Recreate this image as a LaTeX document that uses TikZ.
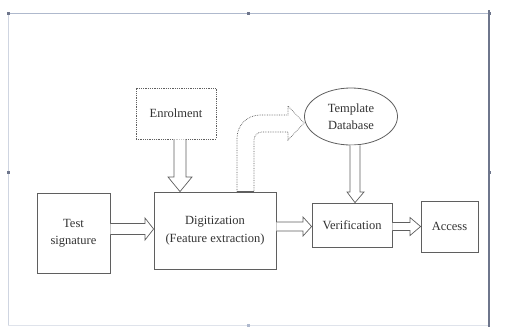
\documentclass[tikz,border=0pt]{standalone}
\usepackage{fontspec}
\setmainfont{Liberation Serif}
\usetikzlibrary{shapes.geometric,calc}
\definecolor{framec}{RGB}{175,185,205}
\definecolor{framed}{RGB}{110,118,140}
\definecolor{linec}{RGB}{95,95,95}
\definecolor{txtc}{RGB}{50,50,50}
\tikzset{
  blockbox/.style={draw=linec, line width=0.8pt, fill=white, text=txtc, align=center, font=\fontsize{12.5}{17.5}\selectfont, inner sep=0pt},
  hollow/.style={draw=linec, line width=0.7pt, fill=white, line join=miter},
  handle/.style={fill=framed, draw=none, minimum size=3pt, inner sep=0pt}
}
\begin{document}
\begin{tikzpicture}[x=1pt,y=-1pt]
\useasboundingbox (0,0) rectangle (526,327);
% frame
\draw[framec, line width=0.8pt] (8,13) -- (489,13);
\draw[framec!60, line width=0.8pt] (8,13) -- (8,325);
\draw[framec!40, line width=0.6pt] (8,325) -- (489,325);
\draw[framed, line width=1.2pt] (489,10) -- (489,327);
\node[handle] (h1) at (8,13) {};
\node[handle] (h2) at (248,13) {};
\node[handle] (h3) at (489,13) {};
\node[handle] (h4) at (8,172) {};
\node[handle] (h5) at (489,172) {};
\node[handle, fill=framec] (h6) at (248,325) {};

% nodes
\node[blockbox, minimum width=73pt, minimum height=80pt] (test) at (73.5,233) {Test\\signature};
\node[blockbox, minimum width=122pt, minimum height=77pt] (dig) at (215,230.5) {Digitization\\(Feature extraction)};
\node[blockbox, draw=linec, densely dotted, minimum width=80pt, minimum height=51pt] (enr) at (176,113.5) {Enrolment};
\node[blockbox, ellipse, minimum width=93pt, minimum height=57pt] (tdb) at (351,116.5) {Template\\Database};
\node[blockbox, minimum width=80pt, minimum height=44pt] (ver) at (352,225) {Verification};
\node[blockbox, minimum width=57pt, minimum height=51pt] (acc) at (449.5,226.5) {Access};

% Test -> Digitization
\draw[hollow] (test.east |- 0,223.5) -- (145,223.5) -- (145,218) -- (dig.west |- 0,229) -- (145,240) -- (145,234.5) -- (test.east |- 0,234.5);
% Digitization -> Verification
\draw[hollow] (dig.east |- 0,222) -- (303,222) -- (303,217) -- (ver.west |- 0,226.5) -- (303,236) -- (303,231) -- (dig.east |- 0,231);
% Verification -> Access
\draw[hollow] (ver.east |- 0,222.5) -- (410,222.5) -- (410,217.5) -- (acc.west |- 0,226.5) -- (410,235.5) -- (410,230.5) -- (ver.east |- 0,230.5);
% Enrolment -> Digitization
\draw[hollow] (174,0 |- enr.south) -- (174,177) -- (168,177) -- (180,0 |- dig.north) -- (192,177) -- (186,177) -- (186,0 |- enr.south);
% Template -> Verification
\draw[hollow] (350,0 |- tdb.south) -- (350,192) -- (347,192) -- (355,0 |- ver.north) -- (364,192) -- (360,192) -- (360,0 |- tdb.south);
% Digitization -> Template (curved)
\draw[hollow, densely dotted] (237,0 |- dig.north) -- (237,138) arc[start angle=180, end angle=270, radius=23] -- (288,115) -- (288,106) -- (tdb.west |- 0,123) -- (288,140) -- (288,132) -- (262,132) arc[start angle=270, end angle=180, radius=8] -- (254,0 |- dig.north);
\draw[linec, line width=1.4pt] (237,0 |- dig.north) -- (254,0 |- dig.north);
\end{tikzpicture}
\end{document}
